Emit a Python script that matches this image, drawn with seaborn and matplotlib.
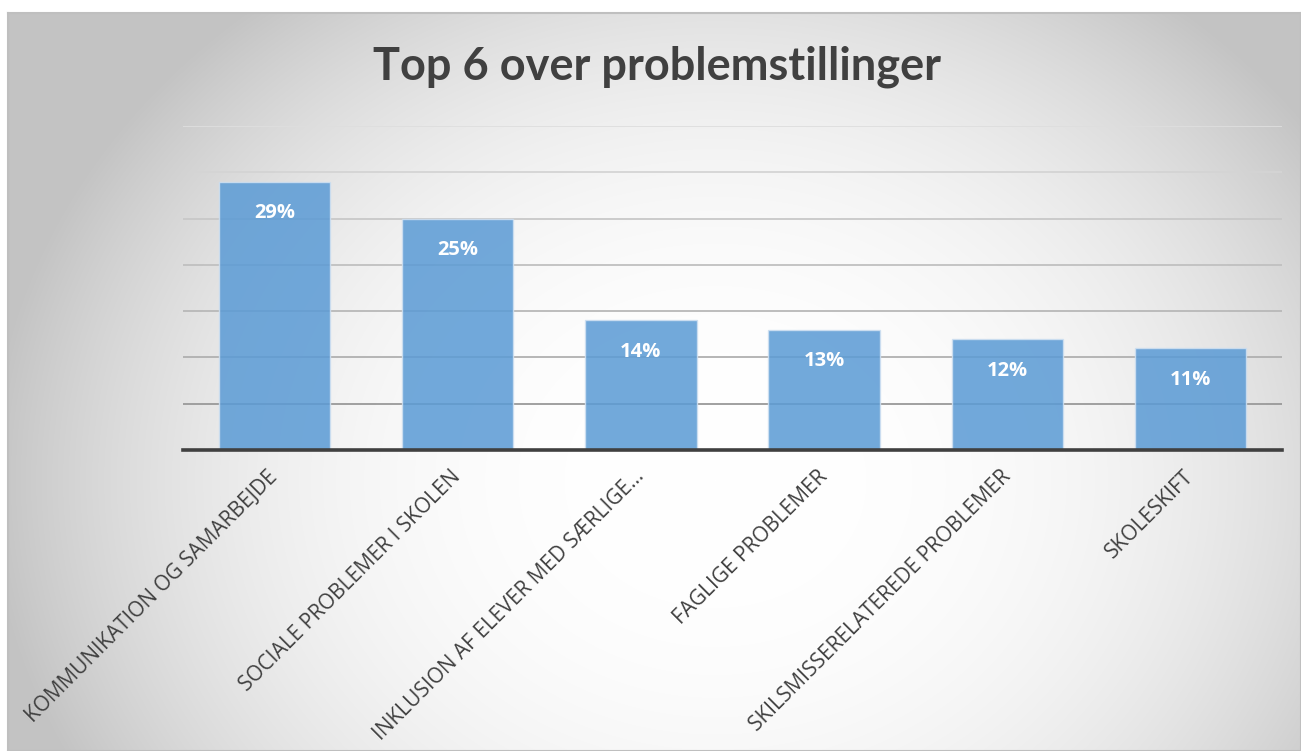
import numpy as np
import pandas as pd
import matplotlib
matplotlib.use("Agg")
import matplotlib.pyplot as plt
import seaborn as sns

# Data
categories = [
    "KOMMUNIKATION OG SAMARBEJDE",
    "SOCIALE PROBLEMER I SKOLEN",
    "INKLUSION AF ELEVER MED SÆRLIGE…",
    "FAGLIGE PROBLEMER",
    "SKILSMISSERELATEREDE PROBLEMER",
    "SKOLESKIFT",
]
shares = [29, 25, 14, 13, 12, 11]
title = "Top 6 over problemstillinger"

sns.set_theme(style="white")
plt.rcParams["font.family"] = ["Lato", "DejaVu Sans"]

W, H = 1301, 751
fig = plt.figure(figsize=(W / 100, H / 100), dpi=100)
fig.patch.set_facecolor("white")

# Chart area with a radial grey-to-white gradient
bx0, by_top = 8, 13
bw, bh = W - bx0, H - by_top
bg = fig.add_axes([bx0 / W, 0, bw / W, bh / H])
bg.set_zorder(0)
yy, xx = np.mgrid[0:bh, 0:bw]
cx, cy = 715 - bx0, 480 - by_top
r = np.sqrt(((xx - cx) / 710.0) ** 2 + ((yy - cy) / 600.0) ** 2)
shade = np.clip(1.0 - 0.22 * r ** 2.6, 0.765, 1.0)
bg.imshow(np.dstack([shade] * 3), aspect="auto", extent=[0, 1, 0, 1], origin="upper")
bg.set_xticks([])
bg.set_yticks([])
for s in bg.spines.values():
    s.set_color("#bfbfbf")
    s.set_linewidth(1.5)

# Plot area
ax = fig.add_axes([183 / W, (H - 450) / H, 1099 / W, 324 / H])
ax.set_zorder(1)
ax.patch.set_alpha(0)

df = pd.DataFrame({"category": categories, "share": shares})
sns.barplot(data=df, x="category", y="share", color="#5B9BD5", alpha=0.86,
            width=0.607, edgecolor="#cfe0f1", linewidth=1.0, saturation=1,
            ax=ax, zorder=2)

ax.set_ylim(0, 35)
ax.set_xlim(-0.5, len(categories) - 0.5)
ax.set_yticks(np.arange(0, 36, 5))
ax.set_axisbelow(True)
ax.grid(axis="y", linewidth=1.3)
ax.grid(axis="x", visible=False)
grid_cols = ["#999999", "#999999", "#b0b0b0", "#b8b8b8", "#c0c0c0", "#c8c8c8", "#d4d4d4", "#dedede"]
for gl, c in zip(ax.get_ygridlines(), grid_cols):
    gl.set_color(c)
ax.tick_params(axis="y", left=False, labelleft=False)
ax.tick_params(axis="x", bottom=False, pad=11)
ax.set_xlabel("")
ax.set_ylabel("")
for side in ["left", "right", "top"]:
    ax.spines[side].set_visible(False)
ax.spines["bottom"].set_color("#404040")
ax.spines["bottom"].set_linewidth(2.6)
ax.spines["bottom"].set_zorder(3)

ax.set_xticks(range(len(categories)))
ax.set_xticklabels(categories, rotation=45, ha="right", va="center",
                   rotation_mode="anchor", fontsize=15, color="#404040",
                   fontfamily=["Open Sans", "DejaVu Sans"])

ax.bar_label(ax.containers[0], labels=[f"{v}%" for v in shares], padding=-30,
             color="white", fontsize=14.5, fontweight="bold",
             fontfamily=["Open Sans", "DejaVu Sans"])

fig.text(0.505, 1 - 80 / H, title, ha="center", va="baseline",
         fontsize=32.5, fontweight="bold", color="#404040")

fig.savefig("out.png", dpi=100)
